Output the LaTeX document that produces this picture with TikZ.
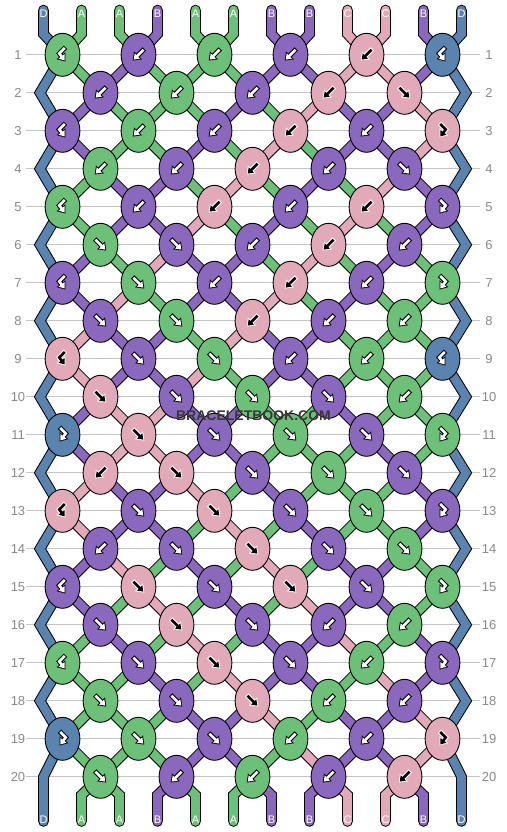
\documentclass[tikz,border=0pt]{standalone}
\usepackage{fontspec}
\setmainfont{Liberation Sans}
\usetikzlibrary{shapes.geometric,arrows.meta}
\definecolor{cA}{HTML}{6CC078}
\definecolor{cB}{HTML}{8968BE}
\definecolor{cC}{HTML}{E2AAB8}
\definecolor{cD}{HTML}{5B83B0}
\colorlet{aoA}{black}\colorlet{aiA}{white}
\colorlet{aoB}{black}\colorlet{aiB}{white}
\colorlet{aoD}{black}\colorlet{aiD}{white}
\colorlet{aoC}{white}\colorlet{aiC}{black}
\definecolor{gridc}{HTML}{C4C4C4}
\definecolor{numc}{HTML}{8A8A8A}
\definecolor{wmc}{HTML}{383838}
\pgfdeclarelayer{gridl}\pgfdeclarelayer{strout}\pgfdeclarelayer{strin}
\pgfsetlayers{gridl,strout,strin,main}
\def\arrf{(-5.8,-5.8) -- (5.8,5.8)}
\def\arrb{(5.8,-5.8) -- (-5.8,5.8)}
\def\arrF{(-3,-7.5) -- (3.2,-1.3) -- (-3,6.8)}
\def\arrB{(3,-7.5) -- (-3.2,-1.3) -- (3,6.8)}
\begin{document}
\begin{tikzpicture}[x=1pt,y=-1pt,
  knot/.style={ellipse, draw=black, line width=0.9pt, minimum width=34.8pt, minimum height=43pt, inner sep=0pt},
  sout/.style={line width=10.6pt, draw=black, line cap=round, line join=miter},
  sin/.style={line width=8.6pt, line cap=round, line join=miter},
  aout/.style={line width=4.8pt, line join=miter, -{Triangle[length=7.4pt,width=10.6pt]}},
  ain/.style={line width=2.6pt, line join=miter, shorten >=1.4pt, shorten <=1pt, -{Triangle[length=5.2pt,width=7.2pt]}},
  gridline/.style={draw=gridc, line width=1pt},
  rownum/.style={text=numc, font=\fontsize{13}{13}\selectfont, inner sep=0pt},
  lab/.style={text=white, font=\fontsize{11}{11}\selectfont, inner sep=0pt},
  wm/.style={font=\bfseries\fontsize{14}{14}\selectfont, inner sep=0pt, text=wmc}]
\useasboundingbox (0,0) rectangle (506,832);
\begin{pgfonlayer}{gridl}\fill[white] (0,0) rectangle (506,832);\end{pgfonlayer}
% grid lines and row numbers
\foreach \r in {1,...,20} {
  \pgfmathsetmacro\yy{54.8+38*(\r-1)}
  \begin{pgfonlayer}{gridl}\draw[gridline] (26,\yy) -- (480,\yy);\end{pgfonlayer}
  \node[rownum] (nl\r) at (18,\yy) {\r};
  \node[rownum] (nr\r) at (489,\yy) {\r};
}
% knots
\foreach \r/\lst in {
 1/{A/B,B/b,A/b,B/b,C/b,D/B},
 2/{B/b,A/b,B/b,C/b,C/f},
 3/{B/B,A/b,B/b,C/b,B/b,C/F},
 4/{A/b,B/b,C/b,B/b,B/f},
 5/{A/B,B/b,C/b,B/b,C/b,B/F},
 6/{A/f,B/f,B/b,C/b,B/b},
 7/{B/B,A/f,B/b,C/b,B/b,A/F},
 8/{B/f,A/f,C/b,B/b,A/b},
 9/{C/B,B/f,A/f,B/b,A/b,D/B},
 10/{C/f,B/f,A/f,B/f,A/b},
 11/{D/F,C/f,B/f,A/f,B/f,A/F},
 12/{C/b,C/f,B/f,A/f,B/f},
 13/{C/B,B/f,C/f,B/f,A/f,B/F},
 14/{B/b,B/f,C/f,B/f,A/f},
 15/{B/B,C/f,B/f,C/f,B/f,A/F},
 16/{B/f,C/f,B/f,B/b,A/b},
 17/{A/B,B/f,C/f,B/f,A/b,B/F},
 18/{A/f,B/f,C/f,A/b,B/b},
 19/{D/F,A/f,B/f,A/b,B/b,C/F},
 20/{A/f,B/b,A/b,B/b,C/b}} {
  \pgfmathtruncatemacro\odd{mod(\r,2)}
  \pgfmathsetmacro\yy{54.8+38*(\r-1)}
  \foreach \kc/\kt [count=\j from 0] in \lst {
    \ifnum\odd=1 \pgfmathsetmacro\xx{62.5+76*\j}\else\pgfmathsetmacro\xx{100.5+76*\j}\fi
    \node[knot, fill=c\kc] (k\r-\j) at (\xx,\yy) {};
    \expandafter\let\expandafter\curpath\csname arr\kt\endcsname
    \draw[aout, draw=ao\kc, shift={(\xx,\yy)}] \curpath;
    \draw[ain, draw=ai\kc, shift={(\xx,\yy)}] \curpath;
  }
}
% string segments between knots
\foreach \r/\lst in {
 1/{D,A,B,A,A,A,B,B,C,C,B,D},
 2/{D,B,A,A,A,B,A,C,B,B,C,D},
 3/{D,B,A,A,B,A,C,A,B,B,C,D},
 4/{D,A,B,B,A,C,A,B,A,C,B,D},
 5/{D,A,B,B,C,A,B,A,C,A,B,D},
 6/{D,B,A,C,B,B,A,C,A,B,A,D},
 7/{D,B,C,A,B,B,C,A,B,A,A,D},
 8/{D,C,B,B,A,C,B,B,A,A,A,D},
 9/{D,C,B,B,C,A,B,B,A,A,A,D},
 10/{D,B,C,C,B,B,A,A,B,A,A,D},
 11/{D,B,C,C,B,B,A,A,A,B,A,D},
 12/{D,C,B,B,C,A,B,A,A,A,B,D},
 13/{D,C,B,B,A,C,A,B,A,A,B,D},
 14/{D,B,C,A,B,A,C,A,B,B,A,D},
 15/{D,B,A,C,A,B,A,C,B,B,A,D},
 16/{D,A,B,A,C,A,B,B,C,A,B,D},
 17/{D,A,A,B,A,C,B,B,A,C,B,D},
 18/{D,A,A,A,B,B,C,A,B,B,C,D},
 19/{D,A,A,A,B,B,A,C,B,B,C,D}} {
  \pgfmathtruncatemacro\rn{\r+1}
  \pgfmathtruncatemacro\odd{mod(\r,2)}
  \foreach \s [count=\p from 0] in \lst {
    \ifnum\p>0 \ifnum\p<11
      \ifnum\odd=1
        \pgfmathtruncatemacro\ja{int(\p/2)}\pgfmathtruncatemacro\jb{int((\p-1)/2)}
      \else
        \pgfmathtruncatemacro\ja{int((\p-1)/2)}\pgfmathtruncatemacro\jb{int(\p/2)}
      \fi
      \begin{pgfonlayer}{strout}\draw[sout] (k\r-\ja.center) -- (k\rn-\jb.center);\end{pgfonlayer}
      \begin{pgfonlayer}{strin}\draw[sin, draw=c\s] (k\r-\ja.center) -- (k\rn-\jb.center);\end{pgfonlayer}
    \fi\fi
  }
}
% top and bottom strings with labels
\foreach \s [count=\p from 0] in {D,A,A,B,A,A,B,B,C,C,B,D} {
  \pgfmathsetmacro\xx{43.5+38*\p}
  \coordinate (ts\p) at (\xx,10);
  \coordinate (tm\p) at (\xx,34);
  \coordinate (bm\p) at (\xx,795);
  \coordinate (bs\p) at (\xx,821.5);
  \node[lab] (tl\p) at (\xx,13.5) {\s};
  \node[lab] (bl\p) at (\xx,819.3) {\s};
  \ifnum\p>0 \ifnum\p<11
    \pgfmathtruncatemacro\ja{int(\p/2)}
    \pgfmathtruncatemacro\jb{int((\p-1)/2)}
    \begin{pgfonlayer}{strout}
      \draw[sout] (ts\p) -- (tm\p) -- (k1-\ja.center);
      \draw[sout] (bs\p) -- (bm\p) -- (k20-\jb.center);
    \end{pgfonlayer}
    \begin{pgfonlayer}{strin}
      \draw[sin, draw=c\s] (ts\p) -- (tm\p) -- (k1-\ja.center);
      \draw[sin, draw=c\s] (bs\p) -- (bm\p) -- (k20-\jb.center);
    \end{pgfonlayer}
  \fi\fi
}
% edge bends
\foreach \r in {2,4,...,18} {
  \pgfmathsetmacro\yy{54.8+38*(\r-1)}
  \coordinate (eL\r) at (40,\yy);
  \coordinate (eR\r) at (466,\yy);
}
\coordinate (eL20) at (43.5,776.8);
\coordinate (eR20) at (461.5,776.8);
\begin{pgfonlayer}{strout}
\draw[sout] (ts0) -- (tm0) -- (k1-0.center) -- (eL2) -- (k3-0.center) -- (eL4) -- (k5-0.center) -- (eL6) -- (k7-0.center) -- (eL8) -- (k9-0.center) -- (eL10) -- (k11-0.center) -- (eL12) -- (k13-0.center) -- (eL14) -- (k15-0.center) -- (eL16) -- (k17-0.center) -- (eL18) -- (k19-0.center) -- (eL20) -- (bs0);
\draw[sout] (ts11) -- (tm11) -- (k1-5.center) -- (eR2) -- (k3-5.center) -- (eR4) -- (k5-5.center) -- (eR6) -- (k7-5.center) -- (eR8) -- (k9-5.center) -- (eR10) -- (k11-5.center) -- (eR12) -- (k13-5.center) -- (eR14) -- (k15-5.center) -- (eR16) -- (k17-5.center) -- (eR18) -- (k19-5.center) -- (eR20) -- (bs11);
\end{pgfonlayer}
\begin{pgfonlayer}{strin}
\draw[sin, draw=cD] (ts0) -- (tm0) -- (k1-0.center) -- (eL2) -- (k3-0.center) -- (eL4) -- (k5-0.center) -- (eL6) -- (k7-0.center) -- (eL8) -- (k9-0.center) -- (eL10) -- (k11-0.center) -- (eL12) -- (k13-0.center) -- (eL14) -- (k15-0.center) -- (eL16) -- (k17-0.center) -- (eL18) -- (k19-0.center) -- (eL20) -- (bs0);
\draw[sin, draw=cD] (ts11) -- (tm11) -- (k1-5.center) -- (eR2) -- (k3-5.center) -- (eR4) -- (k5-5.center) -- (eR6) -- (k7-5.center) -- (eR8) -- (k9-5.center) -- (eR10) -- (k11-5.center) -- (eR12) -- (k13-5.center) -- (eR14) -- (k15-5.center) -- (eR16) -- (k17-5.center) -- (eR18) -- (k19-5.center) -- (eR20) -- (bs11);
\end{pgfonlayer}
% watermark
\node[wm] (wm) at (253.5,415.5) {BRACELETBOOK.COM};
\end{tikzpicture}
\end{document}
